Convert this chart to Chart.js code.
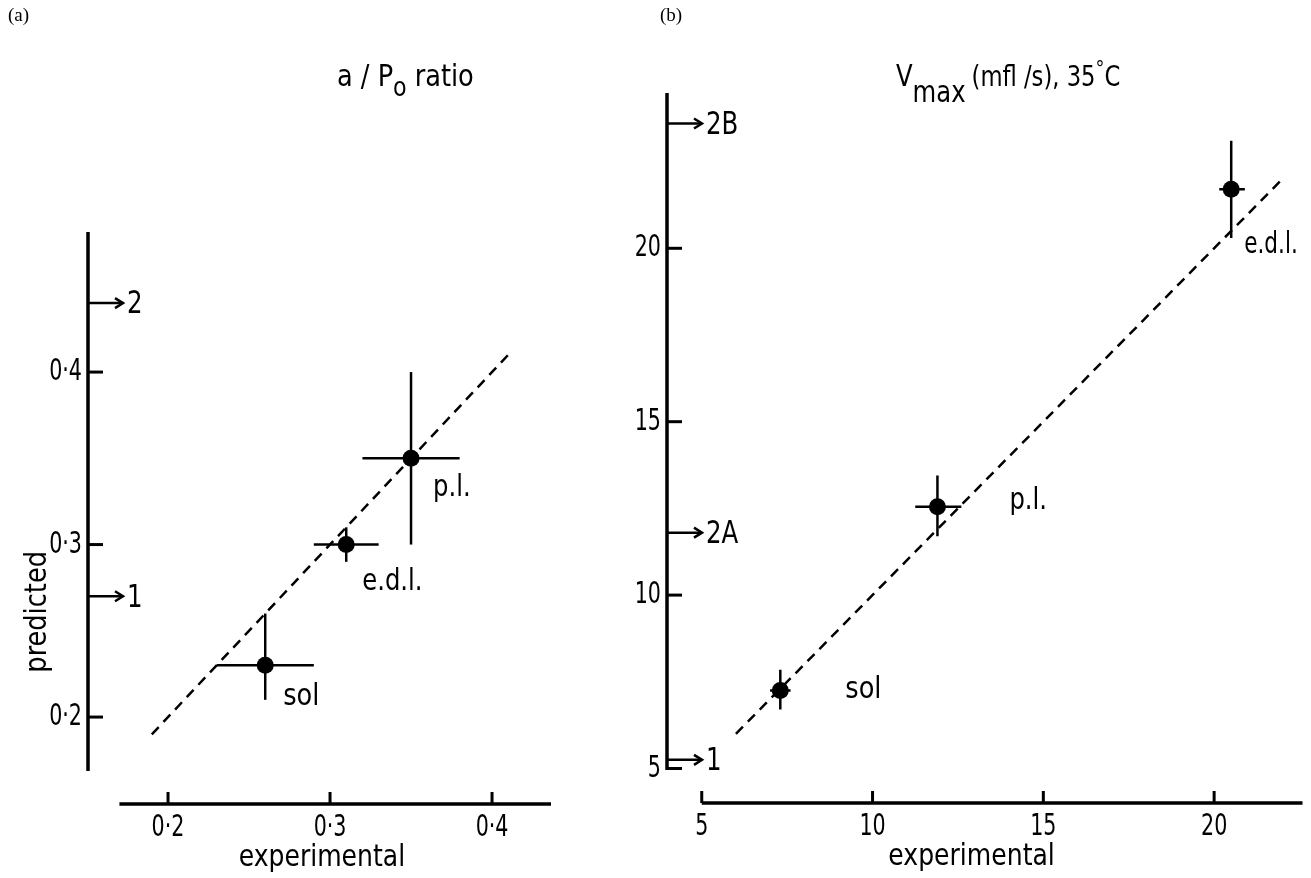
<!DOCTYPE html>
<html lang="en">
<head>
<meta charset="UTF-8">
<title>Predicted vs experimental</title>
<script src="https://cdn.jsdelivr.net/npm/chart.js"></script>
<style>
  body { margin: 0; background: #fff; }
  canvas { position: absolute; top: 0; }
  #chartA { left: 0; }
  #chartB { left: 600px; }
</style>
</head>
<body>
<canvas id="chartA" width="600" height="878"></canvas>
<canvas id="chartB" width="711" height="878"></canvas>
<script>
// (a) a/Po ratio
const aMuscles = ['sol', 'e.d.l.', 'p.l.'];
const aExp = [0.26, 0.31, 0.35];
const aExpLo = [0.23, 0.29, 0.32];
const aExpHi = [0.29, 0.33, 0.38];
const aPred = [0.23, 0.30, 0.35];
const aPredLo = [0.21, 0.29, 0.30];
const aPredHi = [0.26, 0.31, 0.40];
const aTicks = [0.2, 0.3, 0.4];
const aTickLabels = ['0·2', '0·3', '0·4'];
const aMarkers = [0.44, 0.27];
const aMarkerLabels = ['2', '1'];
const aIdentity = [0.19, 0.41];

// (b) Vmax (mfl/s), 35 C
const bMuscles = ['sol', 'p.l.', 'e.d.l.'];
const bExp = [7.3, 11.9, 20.5];
const bExpLo = [7.0, 11.25, 20.15];
const bExpHi = [7.6, 12.6, 20.9];
const bPred = [7.25, 12.55, 21.7];
const bPredLo = [6.7, 11.7, 20.3];
const bPredHi = [7.85, 13.45, 23.1];
const bTicks = [5, 10, 15, 20];
const bTickLabels = ['5', '10', '15', '20'];
const bMarkers = [23.6, 11.8, 5.25];
const bMarkerLabels = ['2B', '2A', '1'];
const bIdentity = [6, 22];

const FONT = "'DejaVu Sans Condensed', 'DejaVu Sans', sans-serif";

function seg(ctx, x1, y1, x2, y2) {
  ctx.beginPath();
  ctx.moveTo(x1, y1);
  ctx.lineTo(x2, y2);
  ctx.stroke();
}

// narrow lettering like the stencil text of the original
function txt(ctx, s, x, y, sx) {
  ctx.save();
  ctx.translate(x, y);
  ctx.scale(sx, 1);
  ctx.fillText(s, 0, 0);
  ctx.restore();
}

function buildDatasets(exp, lo, hi, pred, plo, phi, ident) {
  const sets = [];
  exp.forEach((v, i) => {
    sets.push({ data: [{ x: lo[i], y: pred[i] }, { x: hi[i], y: pred[i] }] });
    sets.push({ data: [{ x: v, y: plo[i] }, { x: v, y: phi[i] }] });
  });
  sets.forEach(s => Object.assign(s, { showLine: true, borderColor: '#000', borderWidth: 2.5, pointRadius: 0 }));
  sets.push({
    data: [{ x: ident[0], y: ident[0] }, { x: ident[1], y: ident[1] }],
    showLine: true, borderColor: '#000', borderWidth: 2.5, borderDash: [10, 7], pointRadius: 0
  });
  sets.push({
    data: exp.map((v, i) => ({ x: v, y: pred[i] })),
    pointRadius: 8.5, backgroundColor: '#000', borderWidth: 0
  });
  return sets;
}

// axes, ticks, arrows and the texts
function framePlugin(p) {
  return {
    id: 'frame',
    afterDraw(chart) {
      const { ctx, chartArea: area } = chart;
      const x = chart.scales.x, y = chart.scales.y;
      const ax = area.left, ay = area.bottom;
      ctx.save();
      ctx.strokeStyle = '#000';
      ctx.fillStyle = '#000';

      ctx.lineWidth = 3.5;
      seg(ctx, ax, y.getPixelForValue(p.yAxis[0]), ax, y.getPixelForValue(p.yAxis[1]));
      seg(ctx, x.getPixelForValue(p.xAxis[0]), ay, x.getPixelForValue(p.xAxis[1]), ay);

      ctx.lineWidth = 3;
      ctx.font = '31px ' + FONT;
      ctx.textBaseline = 'middle';
      p.ticks.forEach((v, i) => {
        const py = y.getPixelForValue(v);
        seg(ctx, ax, py, ax + 15, py);
        ctx.textAlign = 'right';
        txt(ctx, p.tickLabels[i], ax - 6, py, 0.74);
        const px = x.getPixelForValue(v);
        seg(ctx, px, ay, px, ay - 12);
        ctx.textAlign = 'center';
        txt(ctx, p.tickLabels[i], px, ay + 24, 0.74);
      });

      // arrows at the model predictions
      ctx.lineWidth = 2.5;
      ctx.textAlign = 'left';
      ctx.font = '32px ' + FONT;
      p.markers.forEach((v, i) => {
        const py = y.getPixelForValue(v);
        const end = ax + 35;
        seg(ctx, ax, py, end, py);
        ctx.beginPath();
        ctx.moveTo(end - 8, py - 5);
        ctx.lineTo(end, py);
        ctx.lineTo(end - 8, py + 5);
        ctx.stroke();
        txt(ctx, p.markerLabels[i], ax + 39, py + 2, 0.85);
      });

      // muscle names next to the points
      ctx.font = '30px ' + FONT;
      p.names.forEach((n, i) => {
        const px = x.getPixelForValue(p.exp[i]) + p.nameOffsets[i][0];
        const py = y.getPixelForValue(p.pred[i]) + p.nameOffsets[i][1];
        txt(ctx, n, px, py, p.nameScale[i]);
      });

      ctx.textAlign = 'center';
      txt(ctx, 'experimental', x.getPixelForValue(p.xTitleAt), ay + 54, 0.93);
      if (p.yTitle) {
        ctx.save();
        ctx.translate(ax - 50, y.getPixelForValue(p.yTitleAt));
        ctx.rotate(-Math.PI / 2);
        txt(ctx, p.yTitle, 0, 0, 0.95);
        ctx.restore();
      }

      p.drawTitle(ctx);

      ctx.font = '19px "Liberation Serif", serif';
      ctx.textAlign = 'left';
      ctx.fillText(p.panel, p.panelX, 16);
      ctx.restore();
    }
  };
}

function drawRuns(ctx, runs, x0, y0, sx) {
  let cx = x0;
  runs.forEach(r => {
    ctx.font = r[2] + 'px ' + FONT;
    txt(ctx, r[0], cx, y0 + r[1], sx);
    cx += ctx.measureText(r[0]).width * sx + (r[3] || 0);
  });
}

function makeChart(id, datasets, pad, xr, yr, plugin) {
  return new Chart(document.getElementById(id), {
    type: 'scatter',
    data: { datasets },
    options: {
      responsive: false,
      animation: false,
      events: [],
      layout: { padding: pad },
      scales: {
        x: { type: 'linear', display: false, bounds: 'data', min: xr[0], max: xr[1] },
        y: { type: 'linear', display: false, bounds: 'data', min: yr[0], max: yr[1] }
      },
      plugins: { legend: { display: false }, tooltip: { enabled: false } }
    },
    plugins: [plugin]
  });
}

makeChart('chartA',
  buildDatasets(aExp, aExpLo, aExpHi, aPred, aPredLo, aPredHi, aIdentity),
  { left: 88, right: 49, top: 232, bottom: 74 },
  [0.1506, 0.4364], [0.1496, 0.4812],
  framePlugin({
    yAxis: [0.1687, 0.4812], xAxis: [0.17, 0.4364],
    ticks: aTicks, tickLabels: aTickLabels,
    markers: aMarkers, markerLabels: aMarkerLabels,
    names: aMuscles, exp: aExp, pred: aPred,
    nameOffsets: [[18, 32], [16, 38], [22, 30]],
    nameScale: [0.95, 0.9, 0.9],
    xTitleAt: 0.295, yTitle: 'predicted', yTitleAt: 0.261,
    panel: '(a)', panelX: 8,
    drawTitle(ctx) {
      ctx.textAlign = 'left';
      ctx.textBaseline = 'alphabetic';
      drawRuns(ctx, [['a / P', 0, 30], ['o', 10, 26, 8], ['ratio', 0, 30]], 337, 86, 0.95);
      ctx.textBaseline = 'middle';
    }
  }));

makeChart('chartB',
  buildDatasets(bExp, bExpLo, bExpHi, bPred, bPredLo, bPredHi, bIdentity),
  { left: 67, right: 4, top: 93, bottom: 75 },
  [3.983, 22.587], [4.005, 24.478],
  framePlugin({
    yAxis: [4.96, 24.478], xAxis: [5, 22.587],
    ticks: bTicks, tickLabels: bTickLabels,
    markers: bMarkers, markerLabels: bMarkerLabels,
    names: bMuscles, exp: bExp, pred: bPred,
    nameOffsets: [[65, 0], [72, -5], [13, 56]],
    nameScale: [0.95, 0.9, 0.8],
    xTitleAt: 12.9, yTitle: null,
    panel: '(b)', panelX: 60,
    drawTitle(ctx) {
      ctx.textAlign = 'left';
      ctx.textBaseline = 'alphabetic';
      drawRuns(ctx, [['V', 0, 30], ['max', 16, 30, 6], ['(mfl /s), 35', 0, 28], ['°', -10, 22], ['C', 0, 28]], 296, 86, 0.9);
      ctx.textBaseline = 'middle';
    }
  }));
</script>
</body>
</html>
